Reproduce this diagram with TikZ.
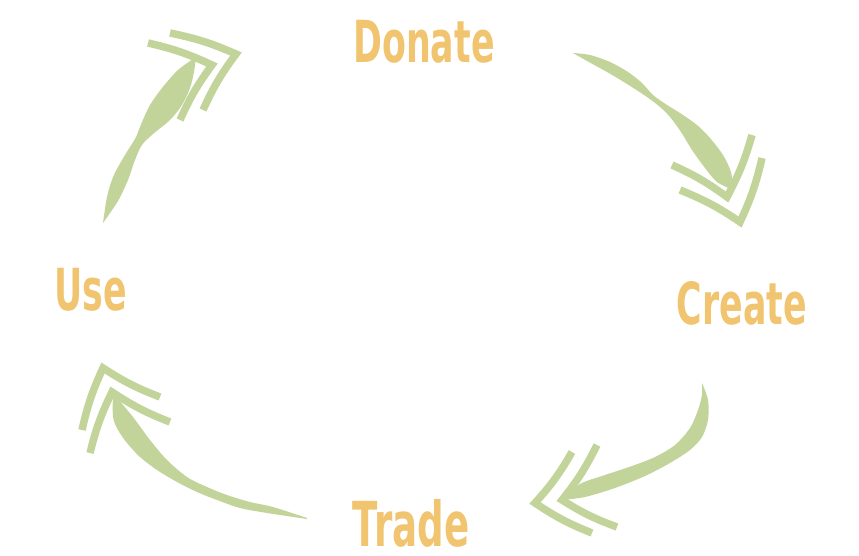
\documentclass[tikz,border=0pt]{standalone}
\usepackage{fontspec}
\usepackage{tikz}
\newfontfamily\cyclefont[FakeStretch=0.6]{DejaVu Sans}

\definecolor{leafgreen}{RGB}{195,212,155}
\definecolor{wordorange}{RGB}{241,196,112}

\tikzset{
	leaf/.style = {fill = leafgreen},
	chev/.style = {draw = leafgreen, line width = 7.5pt, line join = miter},
	word/.style = {text = wordorange, font = \cyclefont\bfseries\fontsize{58}{60}\selectfont, anchor = base, inner sep = 0pt}
}

\begin{document}
\begin{tikzpicture}[x = 1pt, y = -1pt]
		
		\useasboundingbox (0, 0) rectangle (859, 556);
		
		\node[word] (donate) at (424, 63) {Donate};
		\node[word] (create) at (742, 324) {Create};
		\node[word] (trade) at (411, 546) {\fontsize{62}{64}\selectfont Trade};
		\node[word] (use) at (91, 310) {Use};
		
		% use -> donate
		\fill[leaf] plot[smooth] coordinates {(103, 223) (107, 197) (113, 177) (122, 160) (130, 147) (136, 137) (142, 122) (150, 105) (162, 88) (178, 70) (196, 57)}
			-- plot[smooth] coordinates {(196, 57) (194, 72) (190, 88) (182, 105) (170, 120) (153, 134) (142, 145) (135, 160) (128, 180) (118, 201) (103, 223)} -- cycle;
		\draw[chev] (148, 43) to[bend left = 6] (212, 65) to[bend right = 6] (180, 120);
		\draw[chev] (170, 33) to[bend left = 6] (236, 54) to[bend right = 6] (203, 110);
		
		% donate -> create
		\fill[leaf] plot[smooth] coordinates {(573, 53) (590, 55) (610, 62) (628, 72) (642, 83) (653, 95) (667, 105) (680, 113) (697, 125) (710, 138) (723, 155) (731, 172) (733, 190)}
			-- plot[smooth] coordinates {(733, 190) (717, 182) (705, 168) (692, 150) (681, 132) (670, 117) (660, 107) (647, 97) (627, 84) (607, 72) (587, 61) (573, 53)} -- cycle;
		\draw[chev] (752, 135) to[bend left = 6] (727, 197) to[bend right = 6] (672, 165);
		\draw[chev] (762, 158) to[bend left = 6] (740, 222) to[bend right = 6] (680, 190);
		
		% create -> trade
		\fill[leaf] plot[smooth] coordinates {(702, 383) (708, 400) (708, 420) (702, 437) (690, 450) (670, 463) (645, 476) (615, 488) (585, 497) (562, 500)}
			-- plot[smooth] coordinates {(562, 500) (580, 484) (605, 475) (632, 466) (655, 457) (675, 445) (690, 428) (698, 410) (702, 395) (702, 383)} -- cycle;
		\draw[chev] (617, 527) to[bend left = 6] (562, 500) to[bend right = 6] (597, 445);
		\draw[chev] (592, 533) to[bend left = 6] (535, 503) to[bend right = 6] (572, 452);
		
		% trade -> use
		\fill[leaf] plot[smooth] coordinates {(307, 518) (273, 507) (250, 502) (227, 495) (207, 487) (187, 477) (167, 460) (150, 440) (133, 417) (113, 393)}
			-- plot[smooth] coordinates {(113, 393) (113, 417) (118, 430) (127, 443) (140, 457) (157, 470) (177, 482) (197, 492) (217, 500) (240, 508) (267, 513) (307, 519)} -- cycle;
		\draw[chev] (90, 453) to[bend left = 6] (112, 392) to[bend right = 6] (170, 422);
		\draw[chev] (82, 430) to[bend left = 6] (103, 368) to[bend right = 6] (160, 397);
		
	\end{tikzpicture}
\end{document}
